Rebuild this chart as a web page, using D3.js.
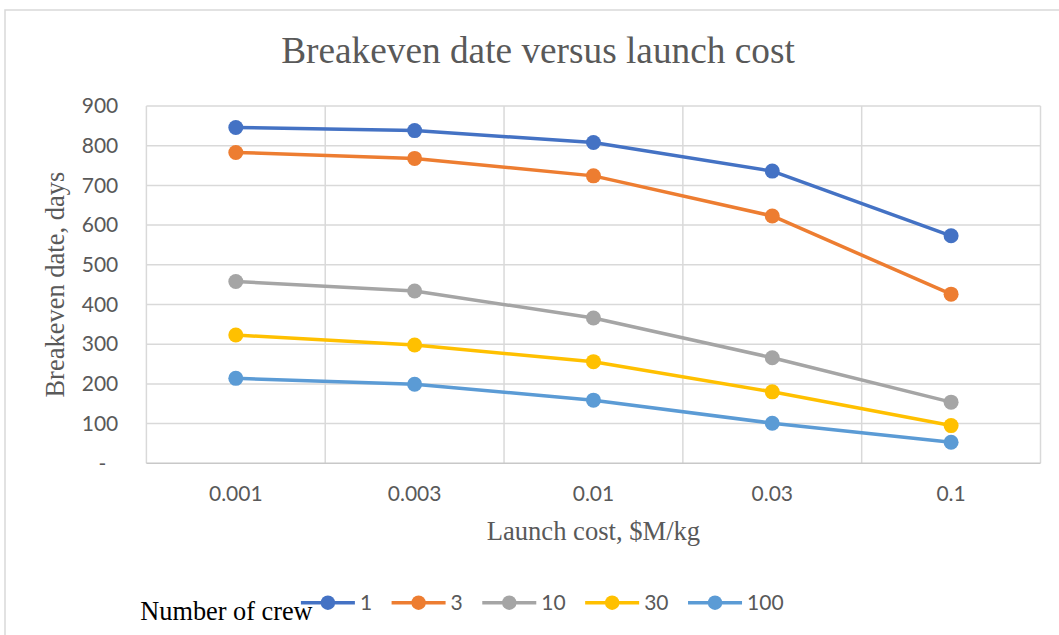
<!DOCTYPE html>
<html>
<head>
<meta charset="utf-8">
<script src="https://cdn.jsdelivr.net/npm/d3@7"></script>
<style>
  body { margin: 0; background: #fff; }
  svg { display: block; }
</style>
</head>
<body>
<script>
// chart data
var costs = ["0.001", "0.003", "0.01", "0.03", "0.1"];
var crew = ["1", "3", "10", "30", "100"];
var crew1 = [846, 838, 808, 736, 573];
var crew3 = [783, 768, 724, 623, 426];
var crew10 = [458, 434, 366, 266, 154];
var crew30 = [323, 298, 256, 180, 95];
var crew100 = [214, 199, 159, 101, 53];
var yTicks = [0, 100, 200, 300, 400, 500, 600, 700, 800, 900];
var colors = ["#4472C4", "#ED7D31", "#A5A5A5", "#FFC000", "#5B9BD5"];

var series = [crew1, crew3, crew10, crew30, crew100].map(function(vals, i) {
    return { name: crew[i], color: colors[i], values: vals };
});

var W = 1059, H = 635;
var margin = {top: 106, right: 18.5, bottom: 171.7, left: 146.4};
var width = W - margin.left - margin.right;
var height = H - margin.top - margin.bottom;

var serif = "'Liberation Serif', 'Times New Roman', serif";
var sans = "Lato, 'Liberation Sans', sans-serif";

var root = d3.select("body").append("svg")
    .attr("width", W)
    .attr("height", H);

// chart frame (runs off the right / bottom edge)
root.append("rect")
    .attr("x", 5).attr("y", 10)
    .attr("width", 1080).attr("height", 660)
    .attr("fill", "#fff")
    .attr("stroke", "#D9D9D9")
    .attr("stroke-width", 1.5);

root.append("text")
    .attr("x", 538).attr("y", 63.3)
    .attr("text-anchor", "middle")
    .style("font-family", serif)
    .style("font-size", "37.3px")
    .attr("fill", "#595959")
    .text("Breakeven date versus launch cost");

var svg = root.append("g")
    .attr("transform", "translate(" + margin.left + "," + margin.top + ")");

var x = d3.scaleBand().domain(costs).range([0, width]).padding(0);
var y = d3.scaleLinear().domain([0, 900]).range([height, 0]);

// horizontal gridlines
svg.append("g")
    .selectAll("line")
    .data(yTicks.slice(1))
    .enter().append("line")
    .attr("x1", 0).attr("x2", width)
    .attr("y1", function(d) { return y(d); })
    .attr("y2", function(d) { return y(d); })
    .attr("stroke", "#D9D9D9")
    .attr("stroke-width", 1.5);

// vertical gridlines at category boundaries
var bounds = costs.map(function(c) { return x(c); }).concat([x(costs[costs.length - 1]) + x.bandwidth()]);
svg.append("g")
    .selectAll("line")
    .data(bounds)
    .enter().append("line")
    .attr("x1", function(d) { return d; })
    .attr("x2", function(d) { return d; })
    .attr("y1", 0).attr("y2", height)
    .attr("stroke", "#D9D9D9")
    .attr("stroke-width", 1.5);

// x axis line
svg.append("line")
    .attr("x1", 0).attr("x2", width)
    .attr("y1", height).attr("y2", height)
    .attr("stroke", "#C8C8C8")
    .attr("stroke-width", 1.5);

// y axis labels
var yAxis = d3.axisLeft(y).tickValues(yTicks).tickSize(0).tickPadding(28.1)
    .tickFormat(function(d) { return d === 0 ? "-" : d; });
var gy = svg.append("g").call(yAxis);
gy.select(".domain").remove();
gy.selectAll("text")
    .style("font-family", sans)
    .style("font-size", "21px")
    .attr("fill", "#595959")
    .attr("dx", function(d) { return d === 0 ? -12 : 0; });

// x axis labels
var xAxis = d3.axisBottom(x).tickSize(0).tickPadding(23);
var gx = svg.append("g")
    .attr("transform", "translate(0," + height + ")")
    .call(xAxis);
gx.select(".domain").remove();
gx.selectAll("text")
    .style("font-family", sans)
    .style("font-size", "21px")
    .attr("fill", "#595959");

// axis titles
svg.append("text")
    .attr("x", width / 2).attr("y", 540 - margin.top)
    .attr("text-anchor", "middle")
    .style("font-family", serif)
    .style("font-size", "26.6px")
    .attr("fill", "#595959")
    .text("Launch cost, $M/kg");

svg.append("text")
    .attr("transform", "translate(" + (64 - margin.left) + "," + (height / 2) + ") rotate(-90)")
    .attr("text-anchor", "middle")
    .style("font-family", serif)
    .style("font-size", "26.5px")
    .attr("fill", "#595959")
    .text("Breakeven date, days");

// lines + markers
var line = d3.line()
    .x(function(d, i) { return x(costs[i]) + x.bandwidth() / 2; })
    .y(function(d) { return y(d); });

var sg = svg.selectAll(".series")
    .data(series)
    .enter().append("g")
    .attr("class", "series");

sg.append("path")
    .attr("d", function(d) { return line(d.values); })
    .attr("fill", "none")
    .attr("stroke", function(d) { return d.color; })
    .attr("stroke-width", 3.5)
    .attr("stroke-linejoin", "round");

sg.selectAll("circle")
    .data(function(d) { return d.values.map(function(v) { return {v: v, color: d.color}; }); })
    .enter().append("circle")
    .attr("cx", function(d, i) { return x(costs[i]) + x.bandwidth() / 2; })
    .attr("cy", function(d) { return y(d.v); })
    .attr("r", 7.5)
    .attr("fill", function(d) { return d.color; });

// legend
root.append("text")
    .attr("x", 140.3).attr("y", 620)
    .style("font-family", serif)
    .style("font-size", "26.3px")
    .attr("fill", "#000")
    .text("Number of crew");

var legend = root.append("g").attr("transform", "translate(300.9,602.7)");
var lx = 0;
series.forEach(function(s) {
    var item = legend.append("g").attr("transform", "translate(" + lx + ",0)");
    item.append("line")
        .attr("x1", 0).attr("x2", 54)
        .attr("stroke", s.color)
        .attr("stroke-width", 3.5);
    item.append("circle")
        .attr("cx", 27).attr("r", 7.2)
        .attr("fill", s.color);
    var t = item.append("text")
        .attr("x", 59)
        .attr("dy", "0.35em")
        .style("font-family", sans)
        .style("font-size", "21px")
        .attr("fill", "#595959")
        .text(s.name);
    lx += 59 + t.node().getComputedTextLength() + 19.5;
});
</script>
</body>
</html>
